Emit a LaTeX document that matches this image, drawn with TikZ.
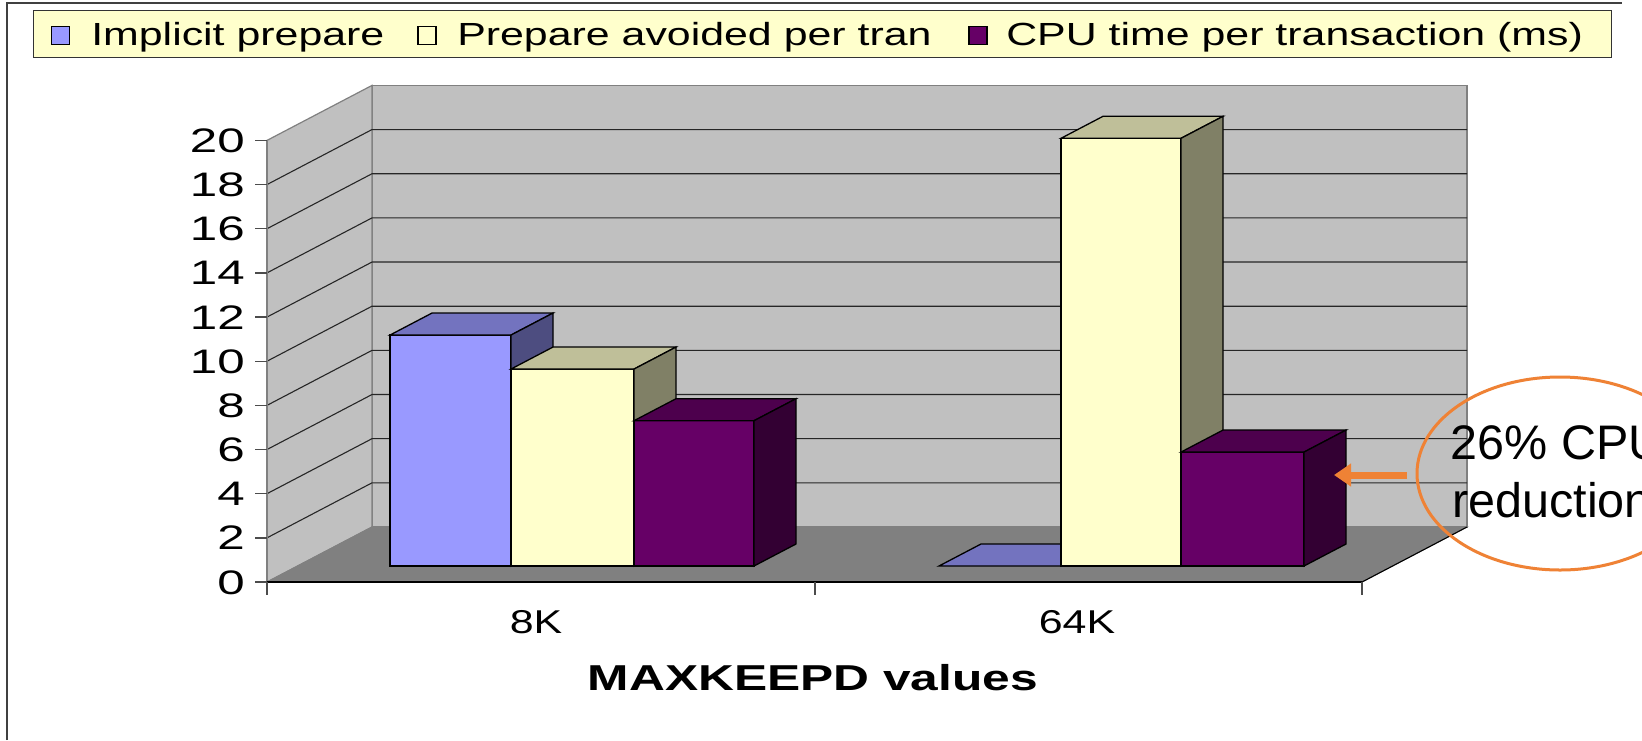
\documentclass[tikz,border=0pt]{standalone}
\usepackage{fontspec}
\setmainfont{Liberation Sans}
\usetikzlibrary{arrows.meta}
\definecolor{framec}{HTML}{404040}
\definecolor{legfill}{HTML}{FFFFCC}
\definecolor{wallc}{HTML}{C0C0C0}
\definecolor{floorc}{HTML}{808080}
\definecolor{edgec}{HTML}{808080}
\definecolor{blueF}{HTML}{9999FF}
\definecolor{blueT}{HTML}{7373BF}
\definecolor{blueS}{HTML}{4D4D80}
\definecolor{yelF}{HTML}{FFFFCC}
\definecolor{yelT}{HTML}{BFBF99}
\definecolor{yelS}{HTML}{808066}
\definecolor{purF}{HTML}{660066}
\definecolor{purT}{HTML}{4D004D}
\definecolor{purS}{HTML}{330033}
\definecolor{orangec}{HTML}{EF8235}
\tikzset{
  barline/.style={draw=black, line width=1.3pt, line join=miter},
  gridl/.style={draw=black!85, line width=1.1pt},
  wallline/.style={draw=edgec, line width=1.2pt},
  ylab/.style={font=\fontsize{34}{40}\selectfont, xscale=1.45, inner sep=0pt},
  catlab/.style={font=\fontsize{33}{40}\selectfont, xscale=1.3, inner sep=0pt},
  axtitle/.style={font=\fontsize{36}{42}\selectfont\bfseries, xscale=1.38, inner sep=0pt},
  legtxt/.style={font=\fontsize{32}{36}\selectfont, xscale=1.34, inner sep=0pt},
  legsq/.style={draw=black, line width=1.2pt, minimum size=18pt, inner sep=0pt},
  anntxt/.style={font=\fontsize{48.5}{56}\selectfont, inner sep=0pt},
}
\newcommand\chartbar[6]{%
  \pgfmathsetmacro\ytop{566-22.08*#3}%
  \filldraw[fill=#4, barline] (#1,566) rectangle (#2,\ytop);
  \filldraw[fill=#5, barline] (#1,\ytop) -- (#2,\ytop) -- ++(42,-22) -- ({#1+42},{\ytop-22}) -- cycle;
  \filldraw[fill=#6, barline] (#2,566) -- (#2,\ytop) -- ++(42,-22) -- ({#2+42},544) -- cycle;
}
\begin{document}
\begin{tikzpicture}[x=1pt,y=-1pt]
\useasboundingbox (0,0) rectangle (1642,740);
\clip (0,0) rectangle (1642,740);
\fill[white] (0,0) rectangle (1642,740);
% frame
\draw[framec, line width=2.5pt] (7,740) -- (7,3) -- (1622,3);
% legend
\node[draw=black!80, line width=1.2pt, fill=legfill, minimum width=1578pt, minimum height=47.5pt, anchor=north west, inner sep=0pt] (legend) at (33,9.5) {};
\node[legsq, fill=blueF] (sq1) at (60.5,35.5) {};
\node[legtxt, anchor=base west] (lt1) at (91,45.5) {Implicit prepare};
\node[legsq, fill=yelF] (sq2) at (427,35.5) {};
\node[legtxt, anchor=base west] (lt2) at (457,45.5) {Prepare avoided per tran};
\node[legsq, fill=purF] (sq3) at (978,35.5) {};
\node[legtxt, anchor=base west] (lt3) at (1006,45.5) {CPU time per transaction (ms)};
% walls and floor
\filldraw[fill=wallc, wallline] (372,527) rectangle (1467,85.4);
\filldraw[fill=wallc, wallline] (267,582) -- (372,527) -- (372,85.4) -- (267,140.4) -- cycle;
\filldraw[fill=floorc, draw=edgec, line width=1pt] (267,582) -- (372,527) -- (1467,527) -- (1362,582) -- cycle;
\foreach \v in {2,4,...,18}{
  \draw[gridl] (267,{582-22.08*\v}) -- (372,{527-22.08*\v}) -- (1467,{527-22.08*\v});
}
\draw[draw=black, line width=1.1pt] (1362,582) -- (1467,527);
% axes
\draw[edgec, line width=1.5pt] (267,140.4) -- (267,582);
\foreach \v in {0,2,...,20}{
  \draw[black!70, line width=1.3pt] (255,{582-22.08*\v}) -- (267,{582-22.08*\v});
  \node[ylab, anchor=base east] (yl\v) at (245,{582-22.08*\v+12}) {\v};
}
\draw[black, line width=1.6pt] (267,582) -- (1362,582);
\foreach \x in {267,815,1362}{
  \draw[black!70, line width=1.3pt] (\x,582) -- (\x,595);
}
% bars 8K
\chartbar{390}{511}{10.46}{blueF}{blueT}{blueS}
\chartbar{511}{634}{8.92}{yelF}{yelT}{yelS}
\chartbar{634}{754}{6.58}{purF}{purT}{purS}
% bars 64K
\filldraw[fill=blueT, barline] (939,566) -- (1061,566) -- (1103,544) -- (981,544) -- cycle;
\chartbar{1061}{1181}{19.37}{yelF}{yelT}{yelS}
\chartbar{1181}{1304}{5.16}{purF}{purT}{purS}
% axis labels
\node[catlab, anchor=base] (c8) at (536,633) {8K};
\node[catlab, anchor=base] (c64) at (1077,633) {64K};
\node[axtitle, anchor=base] (xt) at (813,690) {MAXKEEPD values};
% annotation
\coordinate (ellc) at (1560,473.5);
\draw[orangec, line width=3pt] (ellc) ellipse [x radius=143, y radius=96.5];
\node[anntxt, anchor=base] (ann1) at (1557,459) {26\% CPU};
\node[anntxt, anchor=base] (ann2) at (1552,517) {reduction};
\coordinate (arrS) at (1407,475);
\coordinate (arrE) at (1334,475);
\draw[orangec, line width=7pt, -{Triangle[length=17pt,width=22pt]}] (arrS) -- (arrE);
\end{tikzpicture}
\end{document}
